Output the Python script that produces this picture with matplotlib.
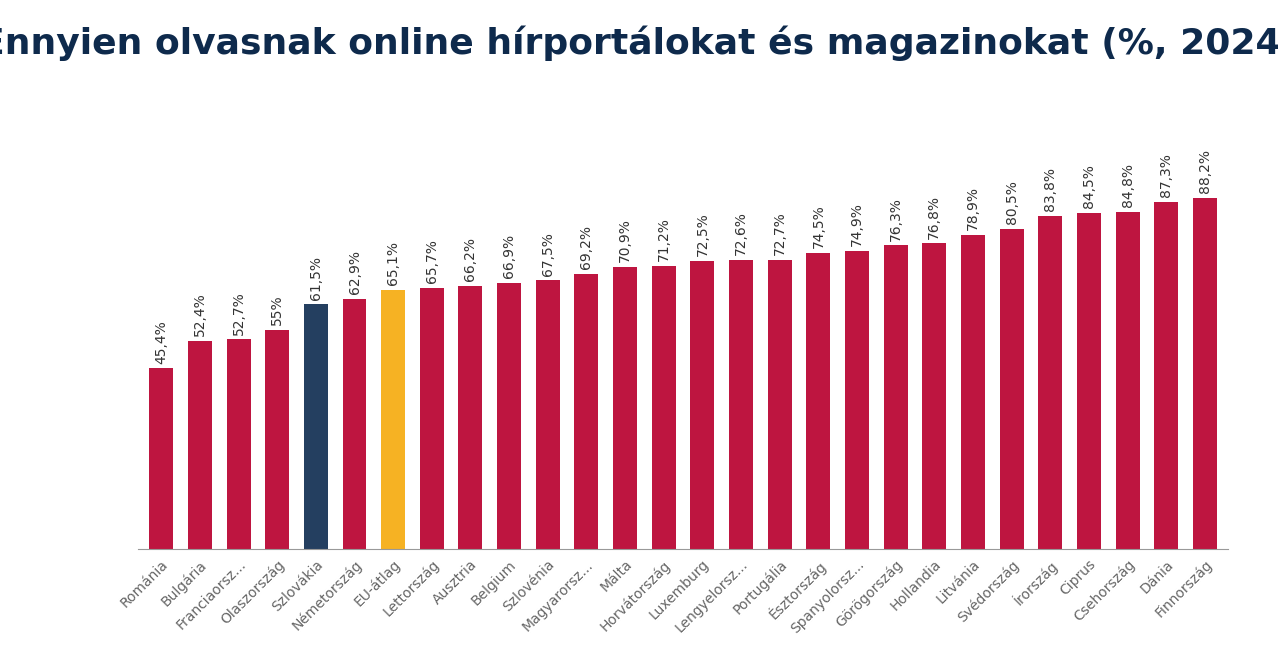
import matplotlib
matplotlib.use("Agg")
import matplotlib.pyplot as plt

categories = ["Románia","Bulgária","Franciaorsz...","Olaszország","Szlovákia","Németország","EU-átlag",
              "Lettország","Ausztria","Belgium","Szlovénia","Magyarorsz...","Málta","Horvátország",
              "Luxemburg","Lengyelorsz...","Portugália","Észtország","Spanyolorsz...","Görögország",
              "Hollandia","Litvánia","Svédország","Írország","Ciprus","Csehország","Dánia","Finnország"]
values = [45.4,52.4,52.7,55,61.5,62.9,65.1,65.7,66.2,66.9,67.5,69.2,70.9,71.2,72.5,72.6,72.7,
          74.5,74.9,76.3,76.8,78.9,80.5,83.8,84.5,84.8,87.3,88.2]
labels = ["45,4%","52,4%","52,7%","55%","61,5%","62,9%","65,1%","65,7%","66,2%","66,9%","67,5%",
          "69,2%","70,9%","71,2%","72,5%","72,6%","72,7%","74,5%","74,9%","76,3%","76,8%","78,9%",
          "80,5%","83,8%","84,5%","84,8%","87,3%","88,2%"]

colors = []
for c in categories:
    if c == "Szlovákia":
        colors.append("#243F60")
    elif c == "EU-átlag":
        colors.append("#F6B223")
    else:
        colors.append("#BE1540")

fig = plt.figure(figsize=(12.78, 6.66), dpi=100)
ax = fig.add_axes([0.108, 0.1757, 0.853, 0.629])
x = range(len(categories))
ax.bar(x, values, width=0.62, color=colors)
for i, (v, l) in enumerate(zip(values, labels)):
    ax.text(i, v + 1.2, l, rotation=90, ha="center", va="bottom", fontsize=10, color="#333333")
ax.set_ylim(0, 105.3)
ax.set_xlim(-0.6, len(categories) - 0.4)
ax.set_xticks(list(x))
ax.set_xticklabels(categories, rotation=45, ha="right", rotation_mode="anchor", fontsize=10, color="#666666")
ax.tick_params(axis="x", length=0, pad=6)
ax.set_yticks([])
for s in ["top", "right", "left"]:
    ax.spines[s].set_visible(False)
ax.spines["bottom"].set_color("#999999")
fig.text(0.5, 0.935, "Ennyien olvasnak online hírportálokat és magazinokat (%, 2024)",
         ha="center", va="center", fontsize=26, fontweight="bold",
         family="DejaVu Sans", color="#0E2A4C")
fig.savefig("out.png", dpi=100)
